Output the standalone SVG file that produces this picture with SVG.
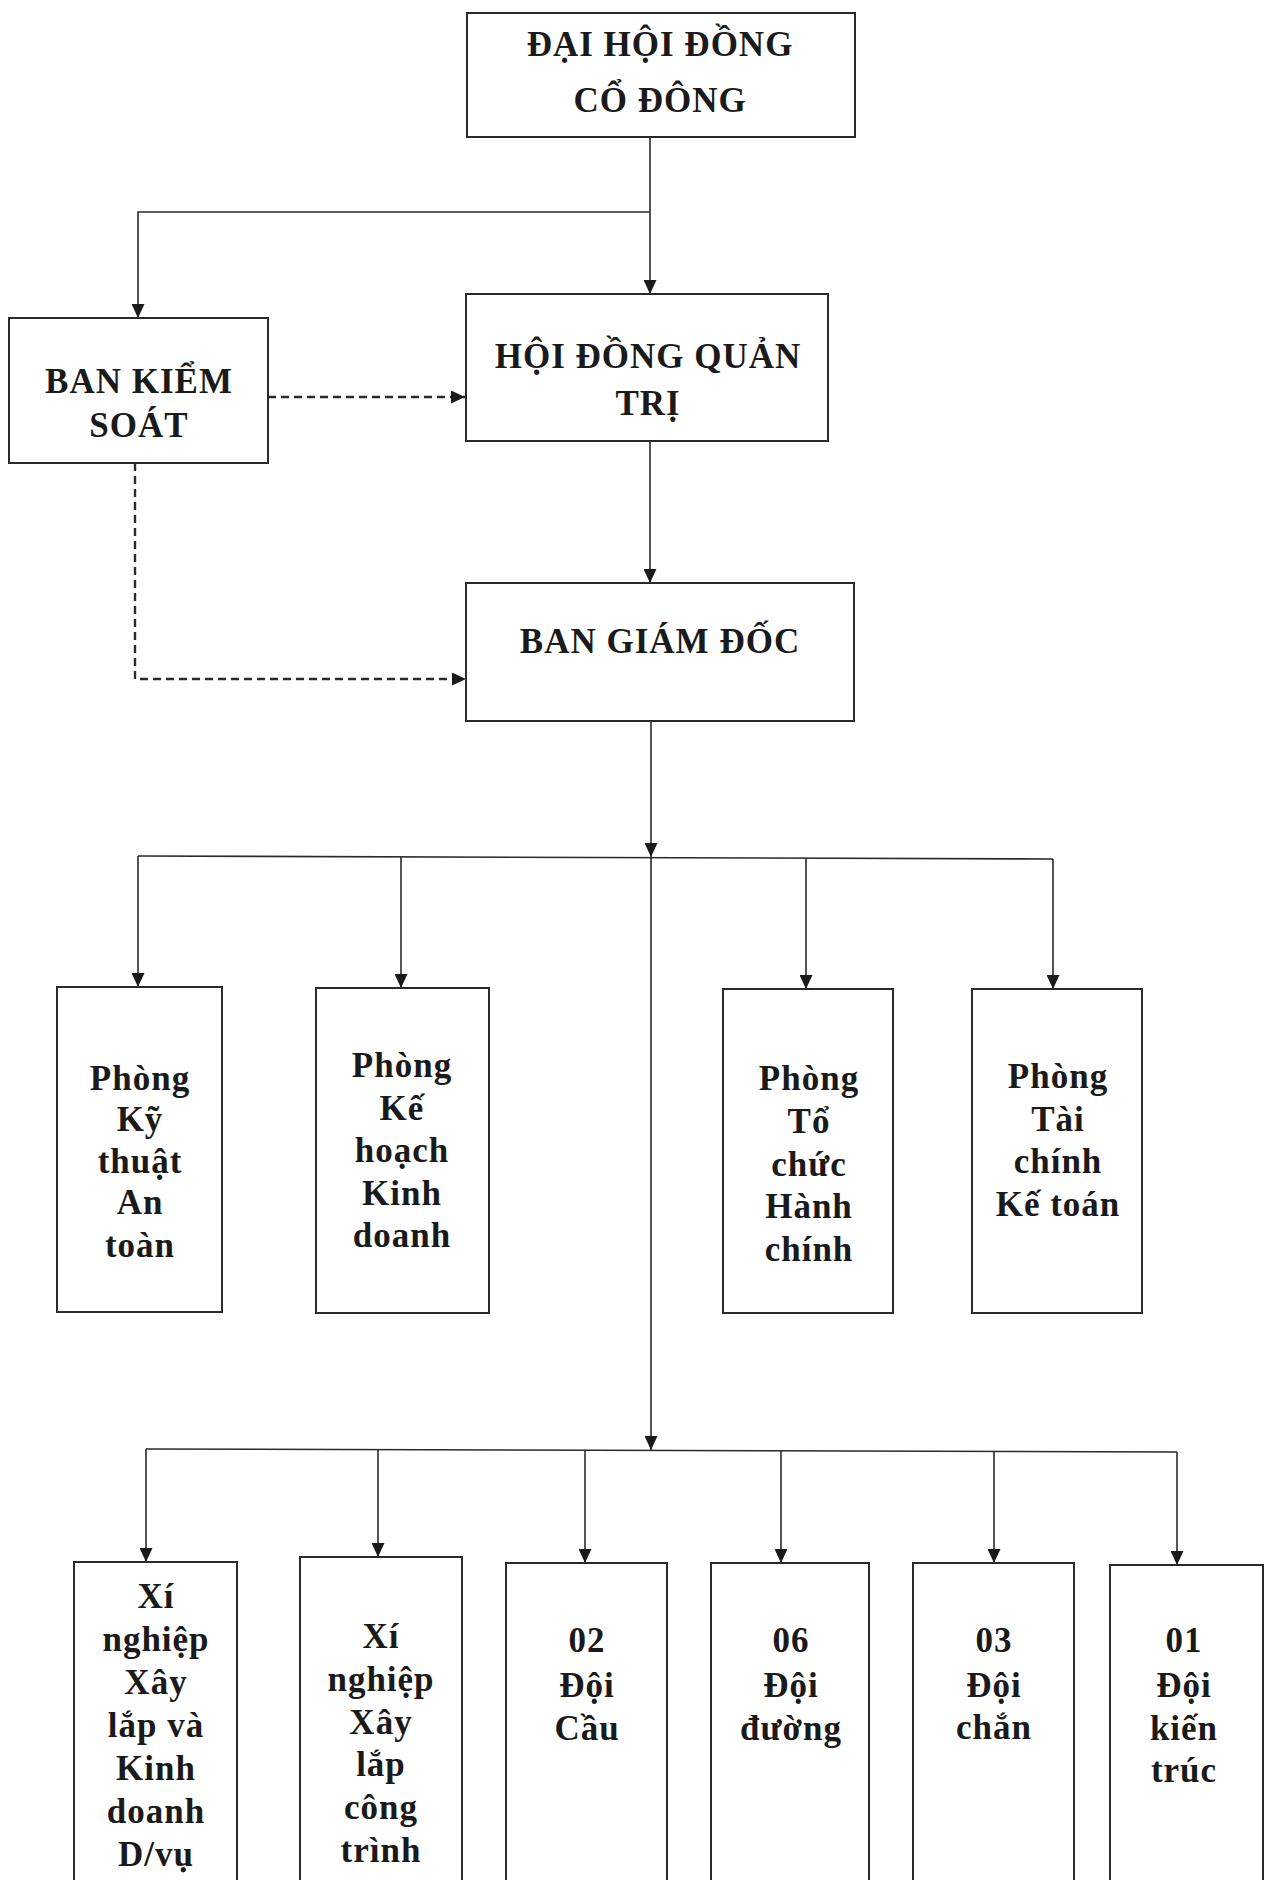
<svg xmlns="http://www.w3.org/2000/svg" width="1270" height="1880" viewBox="0 0 1270 1880">
<style>
.box{fill:#fff;stroke:#2a2a2a;stroke-width:2}
.t{font-family:"Liberation Serif","Times New Roman",serif;font-weight:bold;font-size:35px;letter-spacing:1px;fill:#1a1a1a;text-anchor:middle}
.ln{fill:none;stroke:#2a2a2a;stroke-width:1.6}
.ar{marker-end:url(#ah)}
.dash{fill:none;stroke:#2a2a2a;stroke-width:2.4;stroke-dasharray:8 5}
</style>
<defs>
<marker id="ah" markerUnits="userSpaceOnUse" markerWidth="14" markerHeight="13" refX="14" refY="6.5" orient="auto">
<path d="M0,0 L14,6.5 L0,13 z" fill="#1a1a1a" stroke="none"/>
</marker>
</defs>
<rect width="1270" height="1880" fill="#fff"/>
<g id="connectors">
<path class="ln ar" d="M650,137 V294"/>
<path class="ln ar" d="M650,212 H138 V318"/>
<path class="dash ar" d="M268,397 H465"/>
<path class="dash ar" d="M135,463 V679 H466"/>
<path class="ln ar" d="M650,441 V583"/>
<path class="ln ar" d="M651,721 V857"/>
<path class="ln" d="M138,856 L1053,859"/>
<path class="ln ar" d="M138,856 V987"/>
<path class="ln ar" d="M401,857 V988"/>
<path class="ln ar" d="M806,858 V989"/>
<path class="ln ar" d="M1053,859 V989"/>
<path class="ln ar" d="M651,857 V1450"/>
<path class="ln" d="M146,1449 L1177,1452"/>
<path class="ln ar" d="M146,1449 V1562"/>
<path class="ln ar" d="M378,1450 V1557"/>
<path class="ln ar" d="M585,1450 V1563"/>
<path class="ln ar" d="M781,1451 V1563"/>
<path class="ln ar" d="M994,1451 V1563"/>
<path class="ln ar" d="M1177,1452 V1565"/>
</g>
<g id="dhdcd">
<rect class="box" x="467" y="13" width="388" height="124"/>
<text class="t" x="660" y="56">ĐẠI HỘI ĐỒNG</text>
<text class="t" x="660" y="112">CỔ ĐÔNG</text>
</g>
<g id="hdqt">
<rect class="box" x="466" y="294" width="362" height="147"/>
<text class="t" x="648" y="368">HỘI ĐỒNG QUẢN</text>
<text class="t" x="648" y="415">TRỊ</text>
</g>
<g id="bks">
<rect class="box" x="9" y="318" width="259" height="145"/>
<text class="t" x="139" y="393">BAN KIỂM</text>
<text class="t" x="139" y="437">SOÁT</text>
</g>
<g id="bgd">
<rect class="box" x="466" y="583" width="388" height="138"/>
<text class="t" x="660" y="653">BAN GIÁM ĐỐC</text>
</g>
<g id="p-ktat">
<rect class="box" x="57" y="987" width="165" height="325"/>
<text class="t" x="140" y="1090">Phòng</text>
<text class="t" x="140" y="1131">Kỹ</text>
<text class="t" x="140" y="1173">thuật</text>
<text class="t" x="140" y="1214">An</text>
<text class="t" x="140" y="1257">toàn</text>
</g>
<g id="p-khkd">
<rect class="box" x="316" y="988" width="173" height="325"/>
<text class="t" x="402" y="1077">Phòng</text>
<text class="t" x="402" y="1120">Kế</text>
<text class="t" x="402" y="1162">hoạch</text>
<text class="t" x="402" y="1205">Kinh</text>
<text class="t" x="402" y="1247">doanh</text>
</g>
<g id="p-tchc">
<rect class="box" x="723" y="989" width="170" height="324"/>
<text class="t" x="809" y="1090">Phòng</text>
<text class="t" x="809" y="1133">Tổ</text>
<text class="t" x="809" y="1176">chức</text>
<text class="t" x="809" y="1218">Hành</text>
<text class="t" x="809" y="1261">chính</text>
</g>
<g id="p-tckt">
<rect class="box" x="972" y="989" width="170" height="324"/>
<text class="t" x="1058" y="1088">Phòng</text>
<text class="t" x="1058" y="1131">Tài</text>
<text class="t" x="1058" y="1173">chính</text>
<text class="t" x="1058" y="1216">Kế toán</text>
</g>
<g id="xn-xlkd">
<rect class="box" x="74" y="1562" width="163" height="340"/>
<text class="t" x="156" y="1608">Xí</text>
<text class="t" x="156" y="1651">nghiệp</text>
<text class="t" x="156" y="1694">Xây</text>
<text class="t" x="156" y="1737">lắp và</text>
<text class="t" x="156" y="1780">Kinh</text>
<text class="t" x="156" y="1823">doanh</text>
<text class="t" x="156" y="1866">D/vụ</text>
</g>
<g id="xn-xlct">
<rect class="box" x="300" y="1557" width="162" height="345"/>
<text class="t" x="381" y="1648">Xí</text>
<text class="t" x="381" y="1691">nghiệp</text>
<text class="t" x="381" y="1734">Xây</text>
<text class="t" x="381" y="1776">lắp</text>
<text class="t" x="381" y="1819">công</text>
<text class="t" x="381" y="1862">trình</text>
</g>
<g id="doi-cau">
<rect class="box" x="506" y="1563" width="161" height="340"/>
<text class="t" x="587" y="1652">02</text>
<text class="t" x="587" y="1697">Đội</text>
<text class="t" x="587" y="1740">Cầu</text>
</g>
<g id="doi-duong">
<rect class="box" x="711" y="1563" width="158" height="340"/>
<text class="t" x="791" y="1652">06</text>
<text class="t" x="791" y="1697">Đội</text>
<text class="t" x="791" y="1740">đường</text>
</g>
<g id="doi-chan">
<rect class="box" x="913" y="1563" width="161" height="340"/>
<text class="t" x="994" y="1652">03</text>
<text class="t" x="994" y="1697">Đội</text>
<text class="t" x="994" y="1739">chắn</text>
</g>
<g id="doi-kientruc">
<rect class="box" x="1110" y="1565" width="153" height="340"/>
<text class="t" x="1184" y="1652">01</text>
<text class="t" x="1184" y="1697">Đội</text>
<text class="t" x="1184" y="1740">kiến</text>
<text class="t" x="1184" y="1782">trúc</text>
</g>
</svg>
